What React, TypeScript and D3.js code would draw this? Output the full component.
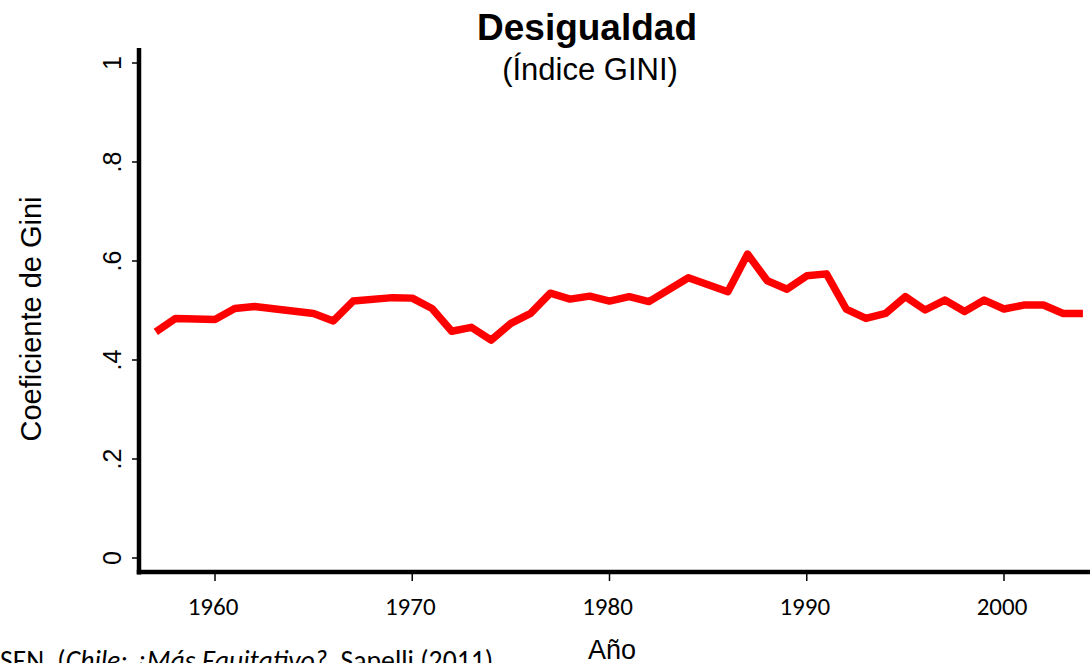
import React from "react";
import * as d3 from "d3";

const years = [1957, 1958, 1960, 1961, 1962, 1965, 1966, 1967, 1969, 1970, 1971, 1972, 1973, 1974, 1975, 1976, 1977, 1978, 1979, 1980, 1981, 1982, 1984, 1985, 1986, 1987, 1988, 1989, 1990, 1991, 1992, 1993, 1994, 1995, 1996, 1997, 1998, 1999, 2000, 2001, 2002, 2003, 2004];
const gini = [0.457, 0.484, 0.482, 0.504, 0.508, 0.494, 0.479, 0.519, 0.526, 0.525, 0.504, 0.458, 0.466, 0.44, 0.474, 0.494, 0.535, 0.523, 0.529, 0.519, 0.528, 0.518, 0.566, 0.552, 0.538, 0.614, 0.56, 0.543, 0.57, 0.574, 0.503, 0.484, 0.494, 0.528, 0.501, 0.521, 0.498, 0.521, 0.503, 0.511, 0.511, 0.494, 0.494];
const xTicks = [1960, 1970, 1980, 1990, 2000];
const yTicks = [0, 0.2, 0.4, 0.6, 0.8, 1];
const yTickLabels = ["0", ".2", ".4", ".6", ".8", "1"];

const W = 1090;
const H = 663;

export default function App() {
  const x = d3.scaleLinear().domain([1960, 2000]).range([215, 1004]);
  const y = d3.scaleLinear().domain([0, 1]).range([558, 63]);
  const data = years.map((yr, i) => ({ yr, v: gini[i] }));
  const line = d3
    .line<{ yr: number; v: number }>()
    .x((d) => x(d.yr))
    .y((d) => y(d.v));

  const axisX = 139;
  const axisY = 572;
  const arial = "'Liberation Sans', Arial, Helvetica, sans-serif";
  const calibri = "Carlito, Calibri, Lato, sans-serif";

  return (
    <svg
      width={W}
      height={H}
      style={{ position: "absolute", left: 0, top: 0, background: "#fff" }}
    >
      <rect x={0} y={0} width={W} height={H} fill="#fff" />
      {/* Title */}
      <text x={587} y={40} textAnchor="middle" fontFamily={arial} fontWeight="bold" fontSize={37} fill="#000">
        Desigualdad
      </text>
      <text x={590} y={80} textAnchor="middle" fontFamily={arial} fontSize={31} fill="#000">
        (Índice GINI)
      </text>

      {/* Y axis */}
      <line x1={axisX} x2={axisX} y1={48} y2={axisY + 2.5} stroke="#000" strokeWidth={4.5} />
      {yTicks.map((t, i) => (
        <g key={t}>
          <line x1={axisX - 7} x2={axisX} y1={y(t)} y2={y(t)} stroke="#000" strokeWidth={1.5} />
          <text
            transform={`translate(121,${y(t)}) rotate(-90)`}
            textAnchor="middle"
            fontFamily={arial}
            fontSize={25}
            fill="#000"
          >
            {yTickLabels[i]}
          </text>
        </g>
      ))}
      <text
        transform={`translate(41,${319}) rotate(-90)`}
        textAnchor="middle"
        fontFamily={arial}
        fontSize={29}
        fill="#000"
      >
        Coeficiente de Gini
      </text>

      {/* X axis */}
      <line x1={axisX - 2.25} x2={W} y1={axisY} y2={axisY} stroke="#000" strokeWidth={4.5} />
      {xTicks.map((t) => (
        <g key={t}>
          <line x1={x(t)} x2={x(t)} y1={axisY} y2={axisY + 9} stroke="#000" strokeWidth={1.5} />
          <text x={x(t) - 2} y={615} textAnchor="middle" fontFamily={calibri} fontSize={25} fill="#000">
            {t}
          </text>
        </g>
      ))}
      <text x={612} y={659} textAnchor="middle" fontFamily={arial} fontSize={27} fill="#000">
        Año
      </text>

      {/* Data line */}
      <path d={line(data) || ""} fill="none" stroke="#ff0000" strokeWidth={7.5} strokeLinejoin="round" />

      {/* Source note */}
      <text x={0} y={670} fontFamily={calibri} fontSize={27.7} fill="#000">
        SEN, (<tspan fontStyle="italic">Chile: ¿Más Equitativo?</tspan>, Sapelli (2011)
      </text>
    </svg>
  );
}
